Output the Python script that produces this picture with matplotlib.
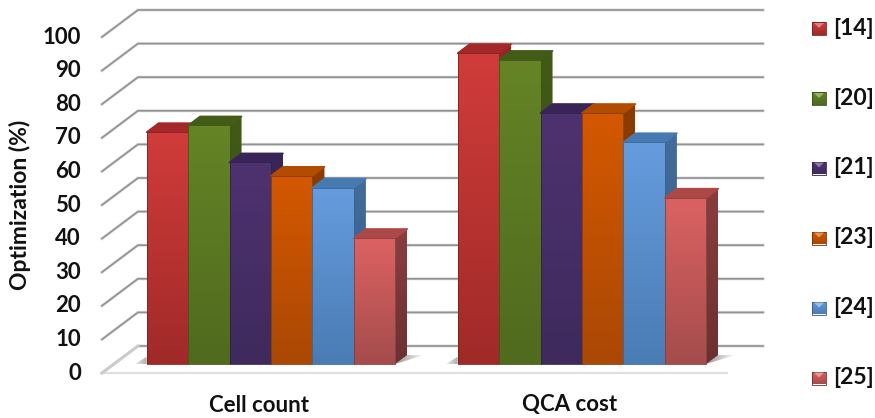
import numpy as np
import matplotlib
matplotlib.use('Agg')
import matplotlib.pyplot as plt
from matplotlib.patches import Polygon

categories = ['Cell count', 'QCA cost']
refs = ['[14]', '[20]', '[21]', '[23]', '[24]', '[25]']
ref14 = [69, 92.5]
ref20 = [71, 90.5]
ref21 = [60, 74.7]
ref23 = [56, 74.7]
ref24 = [52.5, 66]
ref25 = [37.5, 49.5]
series = [ref14, ref20, ref21, ref23, ref24, ref25]
yticks = list(range(0, 101, 10))

# front top, front bottom, side top, side bottom, top face
palette = [
    ((208, 60, 58), (160, 42, 40), (150, 38, 38), (122, 32, 32), (165, 40, 40)),
    ((100, 132, 38), (80, 106, 30), (66, 90, 24), (56, 76, 20), (66, 92, 24)),
    ((78, 50, 112), (62, 42, 92), (58, 38, 88), (48, 32, 72), (56, 36, 86)),
    ((212, 88, 0), (170, 72, 5), (140, 60, 0), (118, 50, 0), (178, 76, 0)),
    ((102, 156, 222), (74, 124, 180), (66, 108, 156), (54, 90, 130), (72, 122, 178)),
    ((220, 98, 98), (165, 76, 76), (138, 62, 62), (108, 48, 48), (172, 72, 72)),
]

W, H = 875, 418
px_cat = 311.0    # pixels per category
px_val = 3.36     # pixels per percent
dx = 12.0 / px_cat    # one depth step, in data units
dy = 9.0 / px_val
bar_w = 41.45 / px_cat
x_left, x_right = -0.505, 1.505
wall, front = 2, -1   # depth of back wall and front edge of floor

fig = plt.figure(figsize=(W / 100, H / 100), dpi=100)
ax = fig.add_axes([0, 0, 1, 1])
ax.axis('off')
plt.rcParams['font.family'] = ['Lato', 'DejaVu Sans']


def rgb(c):
    return np.array(c) / 255.0


def grad_poly(axis, verts, c1, c2, horizontal=False, zorder=2, edge=None):
    verts = np.array(verts)
    x0, y0 = verts.min(axis=0)
    x1, y1 = verts.max(axis=0)
    t = np.linspace(0, 1, 64)[:, None]
    ramp = rgb(c1) * (1 - t) + rgb(c2) * t
    img = ramp[None, :, :] if horizontal else ramp[:, None, :]
    im = axis.imshow(img, extent=(x0, x1, y0, y1), origin='upper', aspect='auto',
                     interpolation='bilinear', zorder=zorder)
    p = Polygon(verts, closed=True, transform=axis.transData, fc='none', ec='none')
    axis.add_patch(p)
    im.set_clip_path(p)
    if edge is not None:
        axis.add_patch(Polygon(verts, closed=True, fc='none', ec=rgb(edge), lw=0.6,
                               joinstyle='round', zorder=zorder))


# front edge of the floor
ax.plot([x_left + front * dx, x_right + front * dx], [front * dy, front * dy],
        color='#e0e0e0', lw=1.6, zorder=1)

# gridlines on the back wall and the side wall
for v in yticks:
    xs = [x_left + front * dx, x_left + wall * dx, x_right + wall * dx]
    ys = [v + front * dy, v + wall * dy, v + wall * dy]
    ax.plot(xs, ys, color='#dedede', lw=2.2, zorder=1, solid_joinstyle='miter')
    ax.plot(xs, ys, color='#929292', lw=1.2, zorder=1, solid_joinstyle='miter')
    if v == 0:
        # the floor edge on the side wall is fainter
        ax.plot(xs[:2], ys[:2], color='#cccccc', lw=2.0, zorder=1.1)

n = len(series)
for j in range(len(categories)):
    x0 = j - n * bar_w / 2
    x1 = j + n * bar_w / 2
    # soft shadows on the floor either side of the group
    grad_poly(ax, [(x0, 0), (x0, 0.8 * dy), (x0 - 1.0 * dx, 0.0)],
              (240, 240, 240), (170, 170, 170), horizontal=True, zorder=1.5)
    grad_poly(ax, [(x1, 0), (x1 + dx, dy), (x1 + 2.4 * dx, dy)],
              (150, 150, 150), (250, 250, 250), horizontal=True, zorder=1.5)
    for i, vals in enumerate(series):
        v = vals[j]
        l = x0 + i * bar_w
        r = l + bar_w
        fc1, fc2, sc1, sc2, tc = palette[i]
        grad_poly(ax, [(r, 0), (r + dx, dy), (r + dx, v + dy), (r, v)], sc1, sc2, zorder=3 + i)
        top = Polygon([(l, v), (r, v), (r + dx, v + dy), (l + dx, v + dy)], closed=True,
                      fc=rgb(tc), ec=rgb(tc), lw=1.2, joinstyle='round', zorder=3 + i)
        ax.add_patch(top)
        grad_poly(ax, [(l, 0), (r, 0), (r, v), (l, v)], fc1, fc2, zorder=3 + i,
                  edge=tuple(int(0.8 * c) for c in fc2))

font = dict(fontweight='bold', color='#111111')
for v in yticks:
    ax.text((81 - 271) / px_cat, v + front * dy, str(v), ha='right', va='center',
            fontsize=16, **font)
for j, name in enumerate(categories):
    ax.text(j - 12 / px_cat, -41 / px_val, name, ha='center', va='center', fontsize=16, **font)
ax.text((20 - 271) / px_cat, (364 - 205) / px_val, 'Optimization (%)', rotation=90,
        ha='center', va='center', fontsize=16.5, **font)

ax.set_xlim(-271 / px_cat, (W - 271) / px_cat)
ax.set_ylim(-(H - 364) / px_val, 364 / px_val)

# legend, laid out in pixels
leg = fig.add_axes([0, 0, 1, 1])
leg.axis('off')
leg.patch.set_alpha(0)
leg_y = [28.5, 98.5, 168, 238, 308, 378]
for i, name in enumerate(refs):
    y = leg_y[i]
    fc1, fc2, sc1, sc2, tc = palette[i]
    grad_poly(leg, [(812, y - 6.5), (826, y - 6.5), (826, y + 6.5), (812, y + 6.5)],
              fc2, fc1, zorder=2, edge=sc2)
    light = tuple(min(255, int(c + 0.35 * (255 - c))) for c in fc1)
    leg.add_patch(Polygon([(814, y - 5.5), (824, y - 5.5), (819, y - 0.5)], closed=True,
                          fc=rgb(light), ec='none', zorder=3))
    leg.text(833, y, name, ha='left', va='center', fontsize=16.5, **font)
leg.set_xlim(0, W)
leg.set_ylim(H, 0)

fig.savefig('out.png', dpi=100)
